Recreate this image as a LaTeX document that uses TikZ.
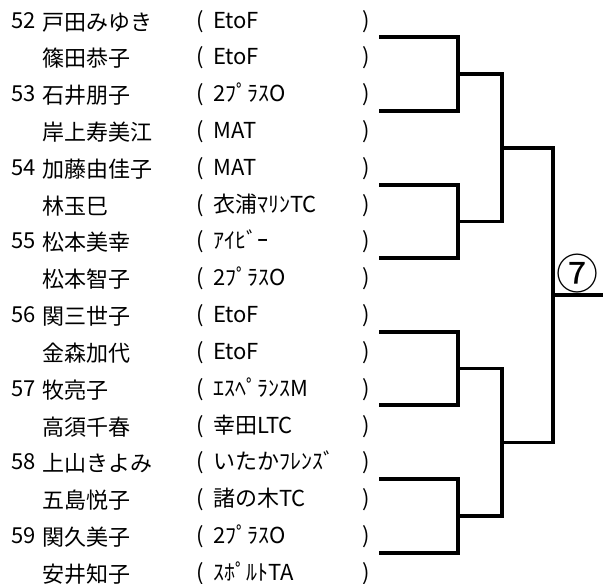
\documentclass[tikz,border=0pt]{standalone}
\usepackage{fontspec}
\setmainfont{Noto Sans CJK JP}
\begin{document}
\begin{tikzpicture}[x=1pt,y=-1pt,
  txt/.style={anchor=base west,inner sep=0pt,font=\fontsize{22}{22}\selectfont},
  nm/.style={txt,yshift=-2pt},
  bline/.style={line width=3.2pt,black}]
\useasboundingbox (0,0) rectangle (603,584);
% rows
\node[txt] (n1) at (11,28) {52};
\node[nm] (m1) at (42,28) {戸田みゆき};
\node[txt] (o1) at (196,28) {(};
\node[txt] (c1) at (213,28) {EtoF};
\node[txt] (e1) at (362,28) {)};
\node[nm] (m2) at (42,64.83) {篠田恭子};
\node[txt] (o2) at (196,64.83) {(};
\node[txt] (c2) at (213,64.83) {EtoF};
\node[txt] (e2) at (362,64.83) {)};
\node[txt] (n3) at (11,101.66) {53};
\node[nm] (m3) at (42,101.66) {石井朋子};
\node[txt] (o3) at (196,101.66) {(};
\node[txt] (c3) at (213,101.66) {2ﾌﾟﾗｽO};
\node[txt] (e3) at (362,101.66) {)};
\node[nm] (m4) at (42,138.49) {岸上寿美江};
\node[txt] (o4) at (196,138.49) {(};
\node[txt] (c4) at (213,138.49) {MAT};
\node[txt] (e4) at (362,138.49) {)};
\node[txt] (n5) at (11,175.32) {54};
\node[nm] (m5) at (42,175.32) {加藤由佳子};
\node[txt] (o5) at (196,175.32) {(};
\node[txt] (c5) at (213,175.32) {MAT};
\node[txt] (e5) at (362,175.32) {)};
\node[nm] (m6) at (42,212.15) {林玉巳};
\node[txt] (o6) at (196,212.15) {(};
\node[txt] (c6) at (213,212.15) {衣浦ﾏﾘﾝTC};
\node[txt] (e6) at (362,212.15) {)};
\node[txt] (n7) at (11,248.98) {55};
\node[nm] (m7) at (42,248.98) {松本美幸};
\node[txt] (o7) at (196,248.98) {(};
\node[txt] (c7) at (213,248.98) {ｱｲﾋﾞｰ};
\node[txt] (e7) at (362,248.98) {)};
\node[nm] (m8) at (42,285.81) {松本智子};
\node[txt] (o8) at (196,285.81) {(};
\node[txt] (c8) at (213,285.81) {2ﾌﾟﾗｽO};
\node[txt] (e8) at (362,285.81) {)};
\node[txt] (n9) at (11,322.64) {56};
\node[nm] (m9) at (42,322.64) {関三世子};
\node[txt] (o9) at (196,322.64) {(};
\node[txt] (c9) at (213,322.64) {EtoF};
\node[txt] (e9) at (362,322.64) {)};
\node[nm] (m10) at (42,359.47) {金森加代};
\node[txt] (o10) at (196,359.47) {(};
\node[txt] (c10) at (213,359.47) {EtoF};
\node[txt] (e10) at (362,359.47) {)};
\node[txt] (n11) at (11,396.3) {57};
\node[nm] (m11) at (42,396.3) {牧亮子};
\node[txt] (o11) at (196,396.3) {(};
\node[txt] (c11) at (213,396.3) {ｴｽﾍﾟﾗﾝｽM};
\node[txt] (e11) at (362,396.3) {)};
\node[nm] (m12) at (42,433.13) {高須千春};
\node[txt] (o12) at (196,433.13) {(};
\node[txt] (c12) at (213,433.13) {幸田LTC};
\node[txt] (e12) at (362,433.13) {)};
\node[txt] (n13) at (11,469.96) {58};
\node[nm] (m13) at (42,469.96) {上山きよみ};
\node[txt] (o13) at (196,469.96) {(};
\node[txt] (c13) at (213,469.96) {いたかﾌﾚﾝｽﾞ};
\node[txt] (e13) at (362,469.96) {)};
\node[nm] (m14) at (42,506.79) {五島悦子};
\node[txt] (o14) at (196,506.79) {(};
\node[txt] (c14) at (213,506.79) {諸の木TC};
\node[txt] (e14) at (362,506.79) {)};
\node[txt] (n15) at (11,543.62) {59};
\node[nm] (m15) at (42,543.62) {関久美子};
\node[txt] (o15) at (196,543.62) {(};
\node[txt] (c15) at (213,543.62) {2ﾌﾟﾗｽO};
\node[txt] (e15) at (362,543.62) {)};
\node[nm] (m16) at (42,580.45) {安井知子};
\node[txt] (o16) at (196,580.45) {(};
\node[txt] (c16) at (213,580.45) {ｽﾎﾟﾙﾄTA};
\node[txt] (e16) at (362,580.45) {)};
% bracket points
\coordinate (a1) at (379,37);
\coordinate (a2) at (379,111);
\coordinate (a3) at (379,185);
\coordinate (a4) at (379,258);
\coordinate (a5) at (379,332);
\coordinate (a6) at (379,405);
\coordinate (a7) at (379,479);
\coordinate (a8) at (379,553);
\coordinate (b1) at (458,74);
\coordinate (b2) at (458,221.5);
\coordinate (b3) at (458,368.5);
\coordinate (b4) at (458,516);
\coordinate (q1) at (502,148);
\coordinate (q2) at (502,442.5);
\coordinate (fin) at (553,295);
\coordinate (out) at (603,295);
\draw[bline] (a1) -| (b1) |- (a2);
\draw[bline] (a3) -| (b2) |- (a4);
\draw[bline] (a5) -| (b3) |- (a6);
\draw[bline] (a7) -| (b4) |- (a8);
\draw[bline] (b1) -| (q1) |- (b2);
\draw[bline] (b3) -| (q2) |- (b4);
\draw[bline] (q1) -| (fin) |- (q2);
\draw[bline] (fin) -- (out);
\node[inner sep=0pt,font=\fontsize{42}{42}\selectfont] (w) at (577.5,273.5) {⑦};
\end{tikzpicture}
\end{document}
